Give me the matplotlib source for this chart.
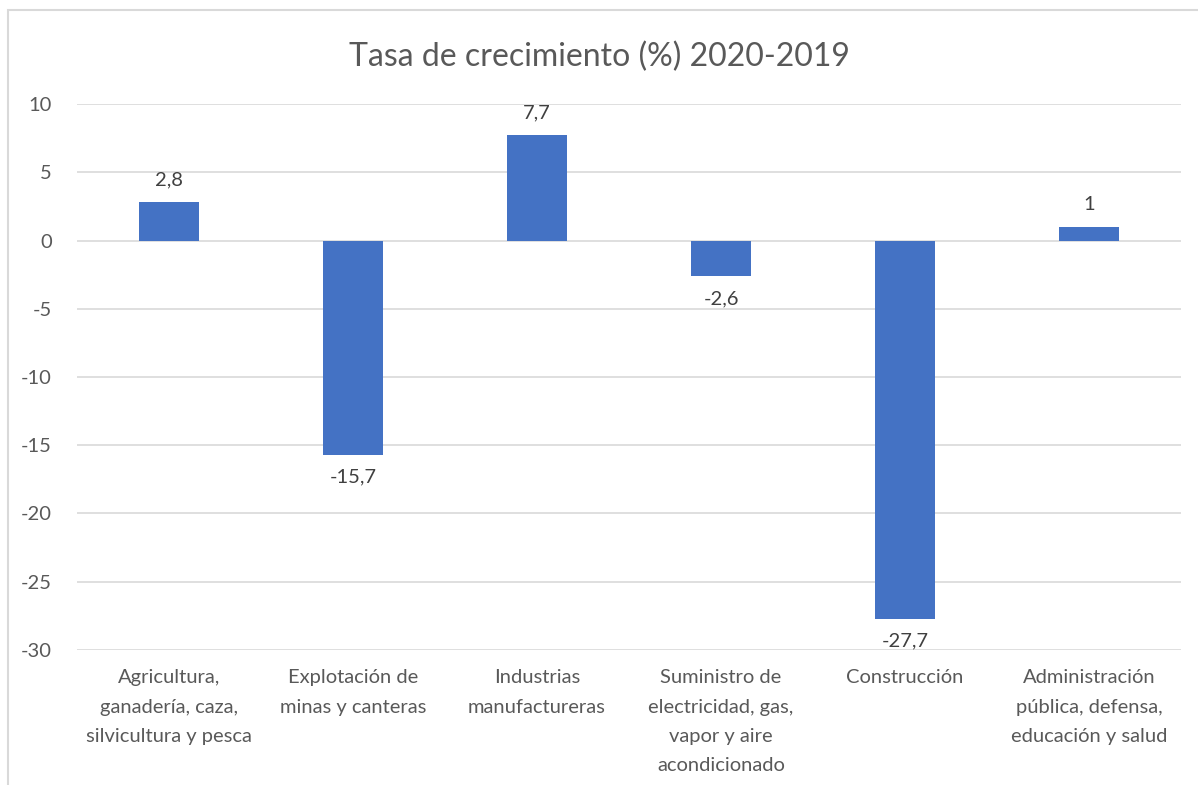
import matplotlib.pyplot as plt
from matplotlib.patches import Rectangle

# Data
categories = [
    'Agricultura,\nganadería, caza,\nsilvicultura y pesca',
    'Explotación de\nminas y canteras',
    'Industrias\nmanufactureras',
    'Suministro de\nelectricidad, gas,\nvapor y aire\nacondicionado',
    'Construcción',
    'Administración\npública, defensa,\neducación y salud',
]
values = [2.8, -15.7, 7.7, -2.6, -27.7, 1.0]
value_labels = ['2,8', '-15,7', '7,7', '-2,6', '-27,7', '1']
yticks = [10, 5, 0, -5, -10, -15, -20, -25, -30]

plt.rcParams['font.family'] = ['Lato', 'DejaVu Sans']
text_color = '#595959'

fig = plt.figure(figsize=(11.98, 7.85), dpi=100)
ax = fig.add_axes([0.0643, 0.172, 0.9215, 0.6955])

# outer chart border
fig.patches.append(Rectangle((8 / 1198, -0.1), 1.2, 1 - 10 / 785 + 0.1,
                             transform=fig.transFigure, fill=False,
                             edgecolor='#D9D9D9', linewidth=1.5))

x = range(len(categories))
bars = ax.bar(x, values, width=0.33, color='#4472C4', zorder=3)

ax.set_xlim(-0.5, len(categories) - 0.5)
ax.set_ylim(-30, 10)
ax.set_yticks(yticks)
ax.set_yticklabels([str(t) for t in yticks], fontsize=14.5, color=text_color)
ax.set_xticks(list(x))
ax.set_xticklabels(categories, fontsize=14.5, color=text_color, linespacing=1.88)
ax.tick_params(length=0)
ax.tick_params(axis='y', pad=18)
ax.tick_params(axis='x', pad=14)
ax.grid(axis='y', color='#D9D9D9', linewidth=1.2, zorder=0)
for s in ax.spines.values():
    s.set_visible(False)

for i, (v, lab) in enumerate(zip(values, value_labels)):
    if v >= 0:
        ax.annotate(lab, (i, v), xytext=(0, 10), textcoords='offset points',
                    ha='center', va='bottom', fontsize=14.5, color='#404040')
    else:
        ax.annotate(lab, (i, v), xytext=(0, -10), textcoords='offset points',
                    ha='center', va='top', fontsize=14.5, color='#404040')

fig.text(0.5, 0.928, 'Tasa de crecimiento (%) 2020-2019', ha='center', va='center',
         fontsize=23, color=text_color)

fig.savefig('out.png', dpi=100)
